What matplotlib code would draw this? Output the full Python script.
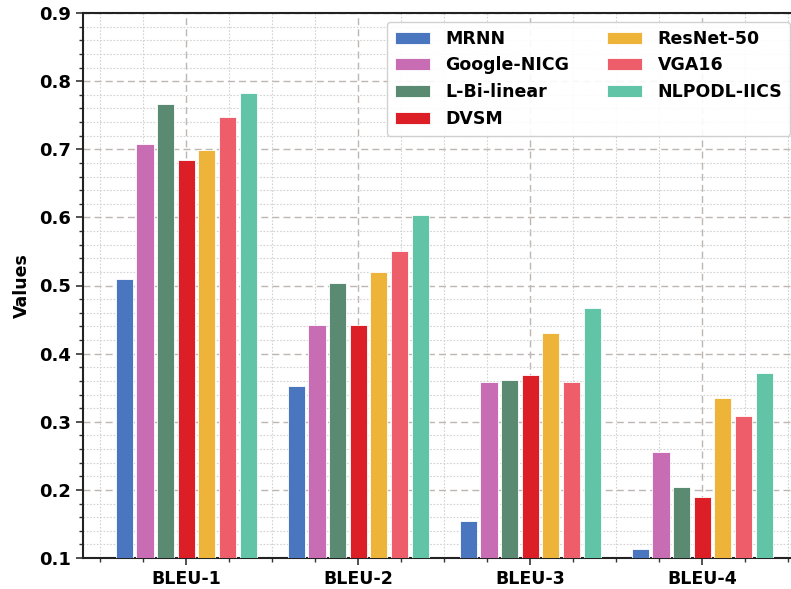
import matplotlib
matplotlib.use('Agg')
import matplotlib.pyplot as plt
import numpy as np
from matplotlib.ticker import MultipleLocator

metrics = ['BLEU-1', 'BLEU-2', 'BLEU-3', 'BLEU-4']
models = ['MRNN', 'Google-NICG', 'L-Bi-linear', 'DVSM', 'ResNet-50', 'VGA16', 'NLPODL-IICS']

mrnn        = [0.509, 0.352, 0.155, 0.113]
google_nicg = [0.707, 0.442, 0.359, 0.255]
l_bi_linear = [0.767, 0.503, 0.362, 0.204]
dvsm        = [0.684, 0.442, 0.368, 0.189]
resnet_50   = [0.699, 0.520, 0.431, 0.335]
vga16       = [0.747, 0.551, 0.359, 0.309]
nlpodl_iics = [0.783, 0.603, 0.467, 0.372]

colors = ['#4a76c0', '#c86db4', '#5b8a72', '#dc1f26', '#eeb43a', '#ee5e6a', '#62c4a6']

series = [mrnn, google_nicg, l_bi_linear, dvsm, resnet_50, vga16, nlpodl_iics]

W, H = 791, 589
fig = plt.figure(figsize=(W / 100, H / 100), dpi=100)

# axes: left spine at 83px, bottom at 558px, top at 13px; right side cropped off
left_px, right_px, top_px, bottom_px = 83, 815, 13, 558
ax = fig.add_axes([left_px / W, 1 - bottom_px / H,
                   (right_px - left_px) / W, (bottom_px - top_px) / H])

x = np.arange(len(metrics))
pitch = 0.12
width = 0.10
for i, (name, vals) in enumerate(zip(models, series)):
    ax.bar(x + (i - 3) * pitch, vals, width, color=colors[i], label=name,
           edgecolor='white', linewidth=0.6, zorder=3)

px_per_unit = 172.0
ax.set_xlim(-0.6, -0.6 + (right_px - left_px) / px_per_unit)

ax.set_xticks(x)
ax.set_xticklabels(metrics, fontsize=12.5, fontweight='bold')
ax.xaxis.set_minor_locator(MultipleLocator(0.25))
yt = np.round(np.arange(0.1, 0.91, 0.1), 1)
ax.set_yticks(yt)
ax.set_yticklabels(['%.1f' % v for v in yt], fontsize=13, fontweight='bold')
ax.yaxis.set_minor_locator(MultipleLocator(0.02))
ax.set_ylim(0.1, 0.9)

ax.tick_params(which='major', direction='out', length=5, width=1.2, color='#333333')
ax.tick_params(which='minor', direction='out', length=3, width=1.0, color='#333333')

ax.grid(which='major', linestyle=(0, (5, 3)), color='#bdb6b2', linewidth=1.0, zorder=0)
ax.grid(which='minor', linestyle=(0, (1.5, 1.5)), color='#d2d2d2', linewidth=0.8, zorder=0)
ax.set_axisbelow(True)

for s in ['left', 'top', 'bottom']:
    ax.spines[s].set_linewidth(1.5)
    ax.spines[s].set_color('#222222')
ax.spines['right'].set_visible(False)

ax.set_ylabel('Values', fontsize=12.5, fontweight='bold', labelpad=6)

ax_w = right_px - left_px
ax_h = bottom_px - top_px
leg = ax.legend(ncol=2, loc='upper left',
                bbox_to_anchor=((387 - left_px) / ax_w, 1 - (22 - top_px) / ax_h),
                borderaxespad=0,
                prop={'size': 12.5, 'weight': 'bold'}, frameon=True, handlelength=2.0,
                handleheight=0.7, labelspacing=0.5, columnspacing=2.2, borderpad=0.45,
                handletextpad=0.9, fancybox=True, framealpha=0.9, edgecolor='#cccccc')

fig.savefig('out.png', dpi=100)
